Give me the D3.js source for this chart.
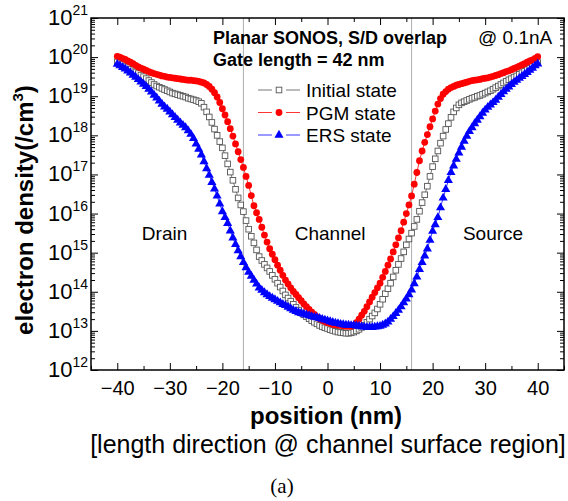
<!DOCTYPE html>
<html>
<head>
<meta charset="utf-8">
<script src="https://cdn.jsdelivr.net/npm/d3@7"></script>
<style>
  body { margin: 0; background: #fff; }
  svg text { font-family: "Liberation Sans", Arial, sans-serif; fill: #000; }
  .axis path.domain { display: none; }
  .axis line { stroke: #000; stroke-width: 1; }
</style>
</head>
<body>
<div id="chart"></div>
<script>
// position along the channel (nm)
const positions = [
  -40,-39.5,-39,-38.5,-38,-37.5,-37,-36.5,-36,-35.5,
  -35,-34.5,-34,-33.5,-33,-32.5,-32,-31.5,-31,-30.5,
  -30,-29.5,-29,-28.5,-28,-27.5,-27,-26.5,-26,-25.5,
  -25,-24.5,-24,-23.5,-23,-22.5,-22,-21.5,-21,-20.5,
  -20,-19.5,-19,-18.5,-18,-17.5,-17,-16.5,-16,-15.5,
  -15,-14.5,-14,-13.5,-13,-12.5,-12,-11.5,-11,-10.5,
  -10,-9.5,-9,-8.5,-8,-7.5,-7,-6.5,-6,-5.5,
  -5,-4.5,-4,-3.5,-3,-2.5,-2,-1.5,-1,-0.5,
  0,0.5,1,1.5,2,2.5,3,3.5,4,4.5,
  5,5.5,6,6.5,7,7.5,8,8.5,9,9.5,
  10,10.5,11,11.5,12,12.5,13,13.5,14,14.5,
  15,15.5,16,16.5,17,17.5,18,18.5,19,19.5,
  20,20.5,21,21.5,22,22.5,23,23.5,24,24.5,
  25,25.5,26,26.5,27,27.5,28,28.5,29,29.5,
  30,30.5,31,31.5,32,32.5,33,33.5,34,34.5,
  35,35.5,36,36.5,37,37.5,38,38.5,39,39.5,
  40];

// electron density as log10(/cm^3)
const initialLog = [
  19.88,19.85,19.81,19.77,19.73,19.69,19.65,19.62,19.58,19.54,
  19.50,19.45,19.40,19.35,19.30,19.26,19.23,19.20,19.17,19.14,
  19.11,19.08,19.06,19.04,19.02,19.00,18.98,18.95,18.93,18.91,
  18.89,18.86,18.82,18.72,18.60,18.47,18.33,18.16,18.00,17.84,
  17.68,17.48,17.27,17.06,16.85,16.62,16.40,16.22,16.05,15.82,
  15.60,15.42,15.25,15.07,14.90,14.80,14.70,14.61,14.52,14.42,
  14.32,14.22,14.12,14.02,13.92,13.84,13.76,13.68,13.60,13.53,
  13.46,13.41,13.36,13.31,13.26,13.22,13.18,13.14,13.11,13.08,
  13.06,13.03,13.01,12.99,12.97,12.96,12.95,12.94,12.94,12.95,
  12.97,13.00,13.04,13.09,13.14,13.22,13.30,13.38,13.46,13.56,
  13.68,13.81,13.95,14.08,14.22,14.38,14.55,14.70,14.85,15.02,
  15.20,15.35,15.50,15.67,15.85,16.06,16.28,16.48,16.70,16.95,
  17.20,17.40,17.60,17.80,17.98,18.15,18.30,18.46,18.60,18.70,
  18.78,18.83,18.86,18.89,18.92,18.95,18.97,19.00,19.02,19.05,
  19.08,19.11,19.14,19.18,19.22,19.26,19.30,19.34,19.38,19.42,
  19.45,19.49,19.52,19.56,19.60,19.64,19.68,19.72,19.77,19.81,
  19.86];

const pgmLog = [
  20.02,20.00,19.97,19.94,19.90,19.87,19.83,19.79,19.75,19.72,
  19.69,19.66,19.63,19.60,19.58,19.56,19.54,19.52,19.51,19.49,
  19.48,19.47,19.46,19.45,19.44,19.43,19.42,19.41,19.41,19.40,
  19.39,19.38,19.36,19.34,19.30,19.25,19.18,19.09,18.98,18.84,
  18.68,18.52,18.35,18.17,17.98,17.78,17.58,17.38,17.18,16.95,
  16.72,16.46,16.20,16.02,15.85,15.65,15.45,15.27,15.10,14.96,
  14.82,14.68,14.55,14.42,14.30,14.20,14.10,14.01,13.93,13.85,
  13.77,13.69,13.62,13.55,13.48,13.42,13.36,13.31,13.27,13.24,
  13.21,13.19,13.17,13.16,13.15,13.14,13.13,13.12,13.12,13.12,
  13.14,13.21,13.30,13.40,13.50,13.62,13.74,13.86,13.98,14.10,
  14.22,14.37,14.52,14.68,14.84,15.02,15.20,15.38,15.56,15.78,
  16.00,16.22,16.45,16.75,17.05,17.35,17.60,17.82,18.02,18.22,
  18.42,18.62,18.80,18.94,19.05,19.12,19.18,19.22,19.25,19.28,
  19.30,19.32,19.34,19.36,19.38,19.40,19.41,19.42,19.43,19.45,
  19.46,19.47,19.49,19.51,19.53,19.55,19.58,19.60,19.63,19.65,
  19.68,19.71,19.74,19.77,19.80,19.83,19.87,19.90,19.93,19.97,
  20.01];

const ersLog = [
  19.82,19.78,19.74,19.70,19.65,19.60,19.54,19.49,19.43,19.37,
  19.31,19.25,19.18,19.11,19.03,18.96,18.88,18.80,18.73,18.67,
  18.60,18.53,18.46,18.39,18.32,18.26,18.20,18.12,18.03,17.92,
  17.78,17.65,17.50,17.33,17.15,16.98,16.80,16.63,16.45,16.25,
  16.05,15.90,15.75,15.56,15.38,15.21,15.05,14.90,14.75,14.62,
  14.50,14.40,14.30,14.20,14.10,14.04,13.98,13.93,13.88,13.84,
  13.80,13.76,13.72,13.68,13.65,13.61,13.57,13.53,13.50,13.47,
  13.45,13.43,13.41,13.39,13.37,13.35,13.34,13.32,13.30,13.28,
  13.26,13.24,13.22,13.20,13.19,13.17,13.16,13.15,13.15,13.14,
  13.14,13.13,13.12,13.11,13.10,13.09,13.09,13.09,13.10,13.11,
  13.12,13.15,13.18,13.23,13.30,13.37,13.45,13.53,13.62,13.72,
  13.82,13.93,14.05,14.21,14.38,14.57,14.75,14.92,15.10,15.32,
  15.55,15.72,15.90,16.15,16.40,16.62,16.85,17.05,17.22,17.39,
  17.55,17.70,17.85,17.98,18.10,18.20,18.30,18.39,18.48,18.57,
  18.65,18.72,18.78,18.84,18.90,18.98,19.05,19.12,19.18,19.24,
  19.30,19.36,19.41,19.46,19.51,19.56,19.61,19.67,19.72,19.78,
  19.83];

const seriesNames = ['Initial state', 'PGM state', 'ERS state'];
const xMajorTicks = [-40,-30,-20,-10,0,10,20,30,40];
const xMinorTicks = [-45,-35,-25,-15,-5,5,15,25,35,45];
const yDecades = [12,13,14,15,16,17,18,19,20,21];
const regionBounds = [-16, 16];
const regionLabels = [
  { text: 'Drain', x: -31 },
  { text: 'Channel', x: 0.5 },
  { text: 'Source', x: 31.5 }
];

class DensityChart {
  constructor(_config) {
    this.config = {
      parentElement: _config.parentElement,
      containerWidth: 568,
      containerHeight: 501,
      margin: { top: 18, right: 4, bottom: 131, left: 91 }
    };
    this.initVis();
  }

  initVis() {
    let vis = this;
    vis.width = vis.config.containerWidth - vis.config.margin.left - vis.config.margin.right;
    vis.height = vis.config.containerHeight - vis.config.margin.top - vis.config.margin.bottom;

    vis.svg = d3.select(vis.config.parentElement).append('svg')
        .attr('width', vis.config.containerWidth)
        .attr('height', vis.config.containerHeight);

    vis.chart = vis.svg.append('g')
        .attr('transform', `translate(${vis.config.margin.left},${vis.config.margin.top})`);

    vis.xScale = d3.scaleLinear().domain([-45, 45]).range([0, vis.width]);
    vis.yScale = d3.scaleLog().domain([1e12, 1e21]).range([vis.height, 0]);

    vis.series = [
      { name: seriesNames[0], values: initialLog, color: '#555', shape: 'square' },
      { name: seriesNames[1], values: pgmLog, color: '#ff0000', shape: 'circle' },
      { name: seriesNames[2], values: ersLog, color: '#0000ff', shape: 'triangle' }
    ].map(s => ({
      ...s,
      points: positions.map((p, i) => ({ x: p, y: Math.pow(10, s.values[i]) }))
    }));

    vis.renderVis();
  }

  drawMarker(sel, shape, color) {
    if (shape === 'circle') {
      sel.append('circle').attr('r', 3.4).attr('fill', color);
    } else if (shape === 'triangle') {
      sel.append('path').attr('d', d3.symbol(d3.symbolTriangle, 36)()).attr('fill', color);
    } else {
      sel.append('rect').attr('x', -2.8).attr('y', -2.8).attr('width', 5.6).attr('height', 5.6)
          .attr('fill', '#fff').attr('stroke', color).attr('stroke-width', 0.9);
    }
  }

  renderVis() {
    let vis = this;
    const w = vis.width, h = vis.height;

    // region boundaries
    vis.chart.selectAll('.bound')
        .data(regionBounds)
        .join('line')
        .attr('class', 'bound')
        .attr('x1', d => vis.xScale(d)).attr('x2', d => vis.xScale(d))
        .attr('y1', 0).attr('y2', h)
        .attr('stroke', '#999').attr('stroke-width', 0.8);

    // log minor ticks
    let yMinor = [];
    yDecades.slice(0, -1).forEach(e => {
      for (let k = 2; k <= 9; k++) yMinor.push(k * Math.pow(10, e));
    });
    const yMajor = yDecades.map(e => Math.pow(10, e));

    vis.chart.append('g').attr('class', 'axis')
        .attr('transform', `translate(0,${h})`)
        .call(d3.axisBottom(vis.xScale).tickValues(xMajorTicks).tickSize(-7).tickPadding(11)
            .tickFormat(d3.format('d')))
        .selectAll('text')
        .attr('font-size', 20);
    vis.chart.append('g').attr('class', 'axis')
        .attr('transform', `translate(0,${h})`)
        .call(d3.axisBottom(vis.xScale).tickValues(xMinorTicks).tickSize(-4).tickFormat(''));
    vis.chart.append('g').attr('class', 'axis')
        .call(d3.axisTop(vis.xScale).tickValues(xMajorTicks).tickSize(-7).tickFormat(''));
    vis.chart.append('g').attr('class', 'axis')
        .call(d3.axisTop(vis.xScale).tickValues(xMinorTicks).tickSize(-4).tickFormat(''));

    vis.chart.append('g').attr('class', 'axis')
        .call(d3.axisLeft(vis.yScale).tickValues(yMajor).tickSize(-7).tickFormat(''));
    vis.chart.append('g').attr('class', 'axis')
        .call(d3.axisLeft(vis.yScale).tickValues(yMinor).tickSize(-4).tickFormat(''));
    vis.chart.append('g').attr('class', 'axis')
        .attr('transform', `translate(${w},0)`)
        .call(d3.axisRight(vis.yScale).tickValues(yMajor).tickSize(-7).tickFormat(''));
    vis.chart.append('g').attr('class', 'axis')
        .attr('transform', `translate(${w},0)`)
        .call(d3.axisRight(vis.yScale).tickValues(yMinor).tickSize(-4).tickFormat(''));

    // y tick labels as 10^n
    const yLab = vis.chart.selectAll('.ylab')
        .data(yDecades)
        .join('text')
        .attr('class', 'ylab')
        .attr('x', -3)
        .attr('y', d => vis.yScale(Math.pow(10, d)) + 7)
        .attr('text-anchor', 'end')
        .attr('font-size', 22);
    yLab.append('tspan').text('10');
    yLab.append('tspan').attr('font-size', 14).attr('dy', -10).text(d => d);

    // frame
    vis.chart.append('rect')
        .attr('width', w).attr('height', h)
        .attr('fill', 'none').attr('stroke', '#000').attr('stroke-width', 1.5);

    // series: grey, then red, blue on top
    const line = d3.line().x(d => vis.xScale(d.x)).y(d => vis.yScale(d.y));
    vis.series.forEach(s => {
      vis.chart.append('path')
          .datum(s.points)
          .attr('d', line)
          .attr('fill', 'none').attr('stroke', s.color).attr('stroke-width', 0.8);
      vis.chart.append('g').selectAll('g')
          .data(s.points)
          .join('g')
          .attr('transform', d => `translate(${vis.xScale(d.x)},${vis.yScale(d.y)})`)
          .each(function() { vis.drawMarker(d3.select(this), s.shape, s.color); });
    });

    // legend
    const legend = vis.chart.append('g').attr('transform', 'translate(167,0)');
    vis.series.forEach((s, i) => {
      const ly = 72 + i * 22.5;
      const row = legend.append('g').attr('transform', `translate(0,${ly})`);
      row.append('line').attr('x1', 0).attr('x2', 14)
          .attr('stroke', s.color).attr('stroke-width', 0.8);
      row.append('line').attr('x1', 28).attr('x2', 42)
          .attr('stroke', s.color).attr('stroke-width', 0.8);
      vis.drawMarker(row.append('g').attr('transform', 'translate(21,0)'), s.shape, s.color);
      row.append('text').attr('x', 48).attr('y', 7).attr('font-size', 19).text(s.name);
    });

    // annotations
    vis.chart.append('text').attr('x', 122).attr('y', 26)
        .attr('font-size', 18).attr('font-weight', 'bold').text('Planar SONOS, S/D overlap');
    vis.chart.append('text').attr('x', 122).attr('y', 48)
        .attr('font-size', 18).attr('font-weight', 'bold').text('Gate length = 42 nm');
    vis.chart.append('text').attr('x', 387).attr('y', 26)
        .attr('font-size', 19).text('@ 0.1nA');

    vis.chart.selectAll('.region')
        .data(regionLabels)
        .join('text')
        .attr('class', 'region')
        .attr('x', d => vis.xScale(d.x))
        .attr('y', 222)
        .attr('text-anchor', 'middle')
        .attr('font-size', 19)
        .text(d => d.text);

    // axis titles
    const yt = vis.svg.append('text')
        .attr('transform', 'translate(33,210) rotate(-90)')
        .attr('text-anchor', 'middle')
        .attr('font-size', 24).attr('font-weight', 'bold');
    yt.append('tspan').text('electron density(/cm');
    yt.append('tspan').attr('font-size', 15).attr('dy', -10).text('3');
    yt.append('tspan').attr('dy', 10).text(')');

    vis.svg.append('text').attr('x', 326).attr('y', 424)
        .attr('text-anchor', 'middle').attr('font-size', 24).attr('font-weight', 'bold')
        .text('position (nm)');
    vis.svg.append('text').attr('x', 328).attr('y', 453)
        .attr('text-anchor', 'middle').attr('font-size', 25)
        .text('[length direction @ channel surface region]');
    vis.svg.append('text').attr('x', 282).attr('y', 493)
        .attr('text-anchor', 'middle').attr('font-size', 21)
        .style('font-family', '"Liberation Serif", "Times New Roman", serif')
        .text('(a)');
  }
}

new DensityChart({ parentElement: '#chart' });
</script>
</body>
</html>
